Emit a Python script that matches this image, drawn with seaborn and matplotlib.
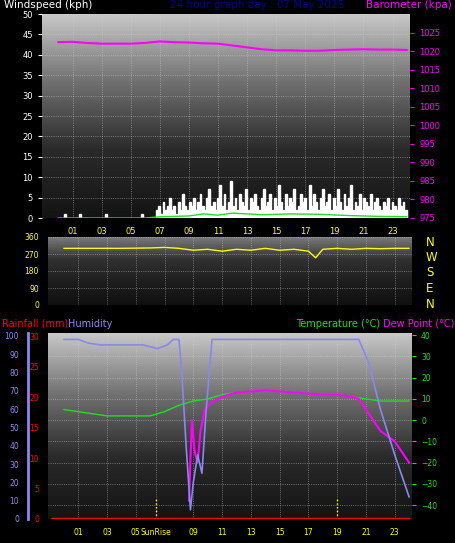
import numpy as np
import matplotlib
matplotlib.use("Agg")
import matplotlib.pyplot as plt
import seaborn as sns

sns.set_style("dark")
plt.rcParams['font.family'] = ['DejaVu Sans']

top_ticks = [1, 3, 5, 7, 9, 11, 13, 15, 17, 19, 21, 23]
top_labels = ["01", "03", "05", "07", "09", "11", "13", "15", "17", "19", "21", "23"]
hour_ticks = [1, 3, 5, 6.4, 9, 11, 13, 15, 17, 19, 21, 23]
hour_labels = ["01", "03", "05", "SunRise", "09", "11", "13", "15", "17", "19", "21", "23"]

# pressure (kPa as labelled)
p_hours = [0, 1, 2, 3, 4, 5, 6, 7, 8, 9, 10, 11, 12, 13, 14, 15, 16, 17, 18, 19, 20, 21, 22, 23, 24]
pressure = [1022.4, 1022.5, 1022.2, 1022.0, 1022.0, 1022.0, 1022.2, 1022.6, 1022.4, 1022.3, 1022.1, 1022.0, 1021.5, 1021.0, 1020.5, 1020.2, 1020.2, 1020.1, 1020.1, 1020.3, 1020.4, 1020.5, 1020.4, 1020.4, 1020.3]

# wind gusts (kph)
w_hours = [0.5, 1.5, 3.3, 5.8] + [6.8 + 0.15 * i for i in range(115)]
gust = [1, 1, 1, 1,
        2, 3, 1, 4, 2, 3, 5, 2, 3, 1, 4, 2, 6, 3, 2, 4, 3, 5, 2, 4, 6, 3, 2, 5, 7, 3,
        4, 2, 5, 8, 3, 6, 2, 4, 9, 3, 5, 2, 6, 4, 3, 7, 2, 5, 4, 6, 3, 2, 5, 7, 3, 4,
        6, 2, 5, 3, 8, 4, 2, 6, 3, 5, 4, 7, 2, 3, 6, 4, 5, 2, 8, 3, 6, 4, 2, 5, 7, 3,
        4, 6, 2, 5, 3, 7, 4, 2, 6, 3, 5, 8, 2, 4, 3, 6, 2, 5, 4, 3, 6, 2, 4, 5, 3, 2,
        4, 3, 5, 2, 4, 3, 2, 5, 3, 4, 2]
avg_hours = [0, 6, 7, 9, 10, 11, 12, 14, 16, 18, 20, 22, 24]
avg_wind = [0, 0, 0.3, 0.5, 1.0, 0.7, 1.2, 0.8, 1.0, 0.9, 0.6, 0.4, 0.3]

# wind direction
d_hours = [0, 2, 4, 6, 7, 8, 9, 10, 11, 12, 13, 14, 15, 16, 17, 17.5, 18, 19, 20, 21, 22, 23, 24]
direction = [300, 300, 300, 302, 305, 300, 290, 295, 285, 295, 290, 300, 290, 295, 285, 250, 295, 300, 295, 300, 298, 300, 300]

# humidity (%)
h_hours = [0, 1, 1.7, 2.5, 4, 5.5, 6.5, 7.2, 7.6, 8.0, 8.2, 8.5, 8.8, 9.0, 9.3, 9.6, 9.9, 10.3, 12, 15, 18, 20.5, 21.2, 22, 23, 24]
humidity = [98, 98, 96, 95, 95, 95, 93, 95, 98, 98, 80, 40, 5, 20, 35, 25, 60, 98, 98, 98, 98, 98, 85, 60, 35, 12]

# temperature and dew point (°C)
t_hours = [0, 1, 2, 3, 5, 6, 7, 8, 9, 10, 11, 12, 14, 16, 18, 19, 20, 21, 22, 24]
temperature = [5, 4, 3, 2, 2, 2, 4, 7, 9, 10, 12, 13, 14, 13, 12, 12, 11, 10, 9, 9]
dp_hours = [8.7, 8.9, 9.1, 9.3, 9.5, 9.8, 10.2, 11, 12, 14, 16, 18, 19, 20, 20.5, 21, 22, 23, 24]
dewpoint = [-38, 0, -15, -20, -5, 5, 8, 11, 13, 14, 13, 12, 12, 11, 10, 5, -5, -10, -20]
rain_hours = [-0.8, 24]
rainfall = [0, 0]

fig = plt.figure(figsize=(4.55, 5.43), dpi=100, facecolor="black")
W, H = 455, 543
def ax_at(x0, y0, x1, y1):
    return fig.add_axes([x0 / W, 1 - y1 / H, (x1 - x0) / W, (y1 - y0) / H])

grad = np.linspace(0, 1, 256).reshape(-1, 1)
cmap = matplotlib.colors.LinearSegmentedColormap.from_list("g", ["#141414", "#2a2a2a", "#707070", "#c8c8c8"])
cmap2 = matplotlib.colors.LinearSegmentedColormap.from_list("g2", ["#101010", "#1e1e1e", "#303030", "#7a7a7a"])

def style(ax, ticks, cm=cmap):
    ax.imshow(grad, extent=[0, 1, 0, 1], transform=ax.transAxes, cmap=cm, aspect="auto", origin="lower", zorder=0)
    ax.set_facecolor("black")
    for s in ax.spines.values():
        s.set_visible(False)
    ax.grid(True, color="#d0d0d0", ls=":", lw=0.6, alpha=0.6)
    ax.set_xlim(-1.1, 24.2)
    ax.set_xticks(ticks)

FS = 7.5
# ---- top panel
ax1 = ax_at(42, 14, 410, 218)
style(ax1, top_ticks)
ax1.bar(w_hours, gust, width=0.12, color="white", zorder=3)
sns.lineplot(x=avg_hours, y=avg_wind, ax=ax1, color="#22dd22", lw=1, zorder=4)
ax1b = ax1.twinx()
ax1b.set_ylim(975, 1030)
ax1b.set_yticks(range(975, 1030, 5))
ax1b.tick_params(axis="y", colors="magenta", labelsize=6, length=3)
for s in ax1b.spines.values():
    s.set_visible(False)
sns.lineplot(x=p_hours, y=pressure, ax=ax1b, color="magenta", lw=1.5)
ax1b.set_xlim(-1.1, 24.2)
ax1.set_ylim(0, 50)
ax1.set_yticks(range(0, 51, 5))
ax1.tick_params(axis="y", colors="white", labelsize=6, length=3)
ax1.tick_params(axis="x", colors="#dddddd", labelcolor="yellow", labelsize=6, length=3)
ax1.set_xticklabels(top_labels)
fig.text(4 / W, 1.0, "Windspeed (kph)", color="white", fontsize=FS, va="top")
fig.text(170 / W, 1.0, "24 hour graph day : 07 May 2025", color="#000099", fontsize=FS, va="top")
fig.text(452 / W, 1.0, "Barometer (kpa)", color="magenta", fontsize=FS, ha="right", va="top")

# ---- middle panel
ax2 = ax_at(48, 237, 412, 305)
style(ax2, top_ticks, cmap2)
ax2.set_ylim(0, 360)
ax2.set_yticks([0, 90, 180, 270, 360])
ax2.tick_params(axis="y", colors="yellow", labelsize=5.5, length=3)
ax2.tick_params(axis="x", length=0, labelbottom=False)
sns.lineplot(x=d_hours, y=direction, ax=ax2, color="yellow", lw=1)
for i, lab in enumerate(["N", "W", "S", "E", "N"]):
    fig.text(426 / W, 1 - (242 + i * 15.5) / H, lab, color="yellow", fontsize=8.5, va="center")

# ---- bottom panel
ax3 = ax_at(48, 333, 412, 519)
style(ax3, hour_ticks)
for x in [6.4, 19]:
    ax3.axvline(x, ymin=0, ymax=0.12, color="yellow", ls=":", lw=1)
sns.lineplot(x=t_hours, y=temperature, ax=ax3, color="#22dd22", lw=1)
sns.lineplot(x=dp_hours, y=dewpoint, ax=ax3, color="magenta", lw=1.5)
axh = ax3.twinx()
axh.set_ylim(0, 101.5)
axh.set_xlim(-1.1, 24.2)
sns.lineplot(x=h_hours, y=humidity, ax=axh, color="#8888ee", lw=1.2)
axh.set_yticks([])
axh.set_ylabel("")
for s in axh.spines.values():
    s.set_visible(False)
ax3.set_ylim(-46.5, 41)
ax3.set_yticks(range(-40, 41, 10))
ax3.tick_params(axis="y", colors="#22dd22", labelsize=5.5, length=3, left=False, labelleft=False, right=True, labelright=True)
ax3.tick_params(axis="x", colors="#dddddd", labelcolor="yellow", labelsize=5.5, length=3)
ax3.set_xticklabels(hour_labels)

axr = fig.add_axes(ax3.get_position())
axr.patch.set_visible(False)
axr.set_xlim(-1.1, 24.2)
axr.set_ylim(0, 30.5)
sns.lineplot(x=rain_hours, y=rainfall, ax=axr, color="red", lw=2.5)
axr.set_xticks([])
axr.set_yticks(range(0, 31, 5))
axr.tick_params(axis="y", colors="red", labelsize=5.5, length=3)
for s in axr.spines.values():
    s.set_visible(False)
# humidity outer axis
axo = fig.add_axes([18 / W, 1 - 519 / H, 10 / W, 186 / H])
axo.set_facecolor("black")
axo.set_ylim(0, 101.5)
axo.set_xticks([])
axo.set_yticks(range(0, 101, 10))
axo.tick_params(axis="y", colors="#8888ee", labelsize=5.5, length=3)
for k, s in axo.spines.items():
    s.set_visible(k == "left")
axo.spines["left"].set_color("#8888ee")
axo.spines["left"].set_linewidth(2)
axo.spines["left"].set_position(("axes", 1.0))
fig.text(2 / W, 1 - 327 / H, "Rainfall (mm)", color="red", fontsize=7)
fig.text(68 / W, 1 - 327 / H, "Humidity", color="#8888ee", fontsize=7)
fig.text(296 / W, 1 - 327 / H, "Temperature (°C)", color="#22dd22", fontsize=7)
fig.text(454 / W, 1 - 327 / H, "Dew Point (°C)", color="magenta", fontsize=7, ha="right")

fig.savefig("out.png", dpi=100, facecolor="black")
